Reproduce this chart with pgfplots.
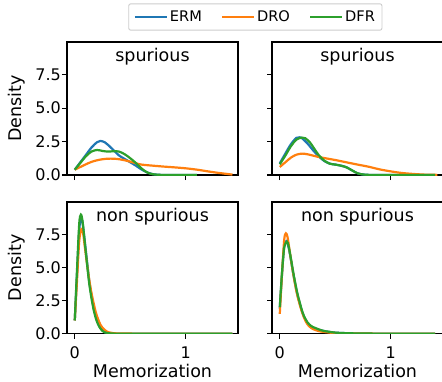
\documentclass[border=0pt]{standalone}
\usepackage{fontspec}
\setmainfont{DejaVu Sans}
\usepackage{pgfplots}
\pgfplotsset{compat=1.18}
\definecolor{tabblue}{HTML}{1F77B4}
\definecolor{taborange}{HTML}{FF7F0E}
\definecolor{tabgreen}{HTML}{2CA02C}
\pgfplotsset{
  panel/.style={
    scale only axis, width=171pt, height=133pt,
    xmin=-0.07, xmax=1.47, ymin=0, ymax=9.95,
    xtick={0,1}, ytick={0,2.5,5,7.5},
    tick align=outside, tick pos=left,
    major tick length=5pt,
    every tick/.style={black, line width=1.15pt},
    axis line style={line width=1.15pt},
    ticklabel style={font=\fontsize{16}{19}\selectfont, inner sep=0pt},
    xticklabel style={yshift=-7.5pt},
    yticklabel style={xshift=-1pt},
    every axis title/.style={at={(axis description cs:0.5,1)}, anchor=base, yshift=-19pt, font=\fontsize{17.5}{20}\selectfont},
    every axis plot/.append style={line width=2.2pt, smooth, tension=0.5, mark=none},
    every axis x label/.style={at={(axis description cs:0.5,0)}, anchor=base, yshift=-44pt, font=\fontsize{17.5}{20}\selectfont},
    every axis y label/.style={at={(axis description cs:-0.2942,0.5)}, anchor=center, rotate=90, font=\fontsize{17.5}{20}\selectfont},
  },
  erm/.style={tabblue},
  dro/.style={taborange},
  dfr/.style={tabgreen},
}
\begin{document}
\begin{tikzpicture}
% top-left
\begin{axis}[panel, at={(67pt,206pt)}, anchor=south west,
  xticklabels={}, yticklabels={0.0,2.5,5.0,7.5}, ylabel={Density}, title={spurious},
  legend entries={ERM,DRO,DFR},
  legend columns=3,
  legend image code/.code={\draw[#1, line width=2.2pt] (0pt,0pt) -- (32pt,0pt);},
  legend style={at={(1.1015,1.188)}, anchor=center, draw=black!20, rounded corners=2pt, line width=0.9pt,
    font=\fontsize{14.6}{17}\selectfont, inner xsep=5pt, inner ysep=5pt,
    /tikz/every even column/.append style={column sep=17pt}},
  ]
\addplot[erm] coordinates {(0,0.4)(0.05,0.95)(0.1,1.5)(0.15,2.05)(0.2,2.45)(0.23,2.55)(0.27,2.45)(0.3,2.25)(0.35,1.85)(0.4,1.45)(0.45,1.2)(0.5,0.95)(0.55,0.7)(0.6,0.42)(0.65,0.2)(0.7,0.07)(0.75,0.02)(0.8,0.005)(0.9,0)(1.1,0)};
\addplot[dro] coordinates {(0,0.4)(0.05,0.6)(0.1,0.8)(0.15,0.98)(0.2,1.1)(0.25,1.18)(0.3,1.22)(0.35,1.22)(0.4,1.18)(0.45,1.1)(0.5,1.0)(0.55,0.88)(0.6,0.78)(0.7,0.7)(0.8,0.63)(0.9,0.57)(1.0,0.5)(1.1,0.4)(1.2,0.27)(1.3,0.15)(1.35,0.1)(1.42,0.03)};
\addplot[dfr] coordinates {(0,0.4)(0.05,0.9)(0.1,1.4)(0.15,1.75)(0.2,1.87)(0.25,1.8)(0.3,1.75)(0.35,1.78)(0.4,1.75)(0.45,1.55)(0.5,1.25)(0.55,0.9)(0.6,0.5)(0.65,0.2)(0.7,0.06)(0.75,0.02)(0.8,0.005)(0.9,0)(1.1,0)};
\end{axis}
% top-right
\begin{axis}[panel, at={(272pt,206pt)}, anchor=south west,
  xticklabels={}, yticklabels={}, title={spurious}]
\addplot[erm] coordinates {(0,0.87)(0.05,1.6)(0.1,2.3)(0.15,2.78)(0.18,2.82)(0.2,2.75)(0.25,2.35)(0.3,1.85)(0.35,1.4)(0.4,1.05)(0.45,0.85)(0.5,0.78)(0.55,0.7)(0.6,0.58)(0.65,0.35)(0.7,0.13)(0.75,0.04)(0.8,0.01)(0.9,0)(1.0,0)(1.2,0)(1.4,0)};
\addplot[dro] coordinates {(0,0.6)(0.05,0.95)(0.1,1.3)(0.15,1.52)(0.2,1.6)(0.25,1.55)(0.3,1.45)(0.35,1.35)(0.4,1.27)(0.5,1.12)(0.6,0.95)(0.7,0.78)(0.8,0.62)(0.9,0.42)(1.0,0.27)(1.1,0.15)(1.2,0.08)(1.3,0.03)(1.42,0.01)};
\addplot[dfr] coordinates {(0,0.8)(0.05,1.45)(0.1,2.15)(0.15,2.65)(0.2,2.8)(0.23,2.75)(0.27,2.45)(0.3,2.1)(0.35,1.5)(0.4,1.08)(0.45,0.85)(0.5,0.78)(0.55,0.7)(0.6,0.58)(0.65,0.35)(0.7,0.13)(0.75,0.04)(0.8,0.01)(0.9,0)(1.0,0)(1.2,0)(1.4,0)};
\end{axis}
% bottom-left
\begin{axis}[panel, at={(67pt,47.3pt)}, anchor=south west, height=131.7pt,
  xticklabels={0,1}, yticklabels={0.0,2.5,5.0,7.5}, ylabel={Density}, xlabel={Memorization}, title={non spurious}]
\addplot[erm] coordinates {(0,1.0)(0.02,4.5)(0.04,7.8)(0.055,8.7)(0.07,8.4)(0.09,7.0)(0.11,5.5)(0.13,4.0)(0.15,2.9)(0.17,2.0)(0.19,1.3)(0.21,0.8)(0.23,0.45)(0.25,0.25)(0.27,0.12)(0.3,0.05)(0.35,0.02)(0.4,0)(0.6,0)(1.0,0)(1.42,0)};
\addplot[dro] coordinates {(0,1.0)(0.02,4.0)(0.04,7.0)(0.06,7.9)(0.075,7.6)(0.09,6.6)(0.11,5.3)(0.13,4.1)(0.15,3.1)(0.17,2.3)(0.19,1.6)(0.21,1.1)(0.23,0.7)(0.25,0.45)(0.27,0.28)(0.3,0.12)(0.35,0.04)(0.4,0.02)(0.5,0.01)(0.6,0)(1.0,0)(1.42,0)};
\addplot[dfr] coordinates {(0,1.0)(0.02,4.8)(0.04,8.3)(0.055,9.0)(0.07,8.5)(0.09,6.9)(0.11,5.3)(0.13,3.8)(0.15,2.7)(0.17,1.8)(0.19,1.15)(0.21,0.7)(0.23,0.4)(0.25,0.2)(0.27,0.1)(0.3,0.04)(0.35,0.01)(0.4,0)(0.6,0)(1.0,0)(1.42,0)};
\end{axis}
% bottom-right
\begin{axis}[panel, at={(272pt,47.3pt)}, anchor=south west, height=131.7pt,
  xticklabels={0,1}, yticklabels={}, xlabel={Memorization}, title={non spurious}]
\addplot[erm] coordinates {(0,1.9)(0.02,4.5)(0.04,6.6)(0.06,7.0)(0.08,6.5)(0.1,5.6)(0.12,4.6)(0.14,3.7)(0.16,2.9)(0.18,2.3)(0.2,1.7)(0.22,1.25)(0.25,0.8)(0.28,0.55)(0.3,0.45)(0.33,0.35)(0.36,0.28)(0.4,0.2)(0.45,0.13)(0.5,0.08)(0.6,0.04)(0.7,0.02)(0.8,0.01)(1.0,0)(1.4,0)};
\addplot[dro] coordinates {(0,1.5)(0.02,4.5)(0.04,7.1)(0.055,7.58)(0.07,7.3)(0.09,6.2)(0.11,5.1)(0.13,4.1)(0.15,3.2)(0.17,2.5)(0.19,1.9)(0.21,1.4)(0.23,1.0)(0.25,0.7)(0.28,0.45)(0.3,0.35)(0.33,0.25)(0.36,0.18)(0.4,0.13)(0.45,0.08)(0.5,0.05)(0.6,0.02)(0.8,0.01)(1.0,0)(1.4,0)};
\addplot[dfr] coordinates {(0,2.0)(0.02,4.6)(0.04,6.5)(0.065,6.95)(0.08,6.6)(0.1,5.7)(0.12,4.7)(0.14,3.8)(0.16,3.0)(0.18,2.35)(0.2,1.75)(0.22,1.3)(0.25,0.85)(0.28,0.6)(0.3,0.5)(0.33,0.4)(0.36,0.3)(0.4,0.2)(0.45,0.14)(0.5,0.08)(0.6,0.04)(0.7,0.02)(0.8,0.01)(1.0,0)(1.4,0)};
\end{axis}
\pgfresetboundingbox
\path[use as bounding box] (0pt,0pt) rectangle (442pt,381pt);
\end{tikzpicture}
\end{document}
